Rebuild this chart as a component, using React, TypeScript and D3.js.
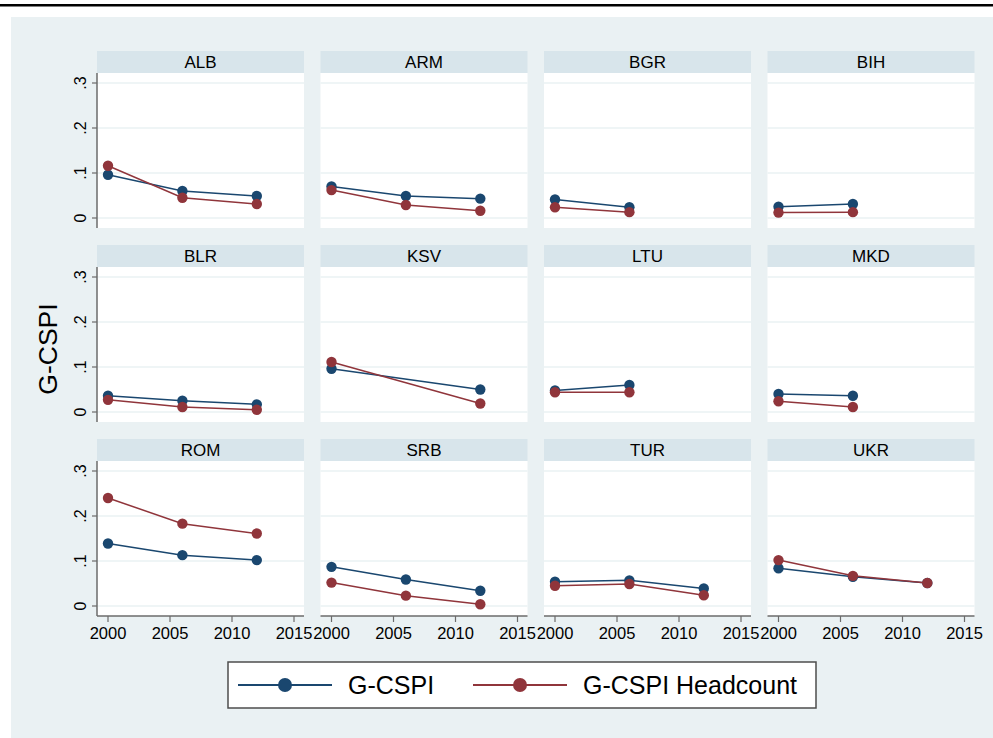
import { useEffect, useRef } from 'react';
import * as d3 from 'd3';

const countries = ['ALB', 'ARM', 'BGR', 'BIH', 'BLR', 'KSV', 'LTU', 'MKD', 'ROM', 'SRB', 'TUR', 'UKR'];
const years = [2000, 2006, 2012];

// G-CSPI per country, for 2000 / 2006 / 2012 (null = no survey)
const gcspi: (number | null)[][] = [
  [0.096, 0.060, 0.049],
  [0.070, 0.049, 0.043],
  [0.041, 0.024, null],
  [0.025, 0.031, null],
  [0.036, 0.025, 0.017],
  [0.096, null, 0.050],
  [0.048, 0.060, null],
  [0.040, 0.036, null],
  [0.139, 0.113, 0.102],
  [0.087, 0.059, 0.034],
  [0.054, 0.057, 0.039],
  [0.084, 0.065, 0.051],
];

// G-CSPI Headcount
const headcount: (number | null)[][] = [
  [0.116, 0.045, 0.031],
  [0.062, 0.029, 0.016],
  [0.024, 0.013, null],
  [0.012, 0.013, null],
  [0.027, 0.011, 0.005],
  [0.111, null, 0.019],
  [0.044, 0.044, null],
  [0.024, 0.011, null],
  [0.240, 0.183, 0.161],
  [0.052, 0.023, 0.004],
  [0.045, 0.049, 0.024],
  [0.102, 0.067, 0.051],
];

const xTicks = [2000, 2005, 2010, 2015];
const yTicks = [0, 0.1, 0.2, 0.3];
const yTickLabels = ['0', '.1', '.2', '.3'];
const seriesNames = ['G-CSPI', 'G-CSPI Headcount'];
const seriesColors = ['#1a476f', '#90353b'];

const WIDTH = 993;
const HEIGHT = 738;
const FONT = '"Liberation Sans", Arial, sans-serif';

const App = () => {
  const svgRef = useRef<SVGSVGElement | null>(null);

  useEffect(() => {
    if (!svgRef.current) return;
    const svg = d3.select(svgRef.current);
    svg.selectAll('*').remove();

    // page rule + graph region
    svg.append('rect').attr('width', WIDTH).attr('height', HEIGHT).attr('fill', '#ffffff');
    svg.append('rect').attr('x', 0).attr('y', 4).attr('width', WIDTH).attr('height', 2.5).attr('fill', '#000');
    svg.append('rect').attr('x', 11).attr('y', 17).attr('width', WIDTH - 11).attr('height', HEIGHT - 17).attr('fill', '#eaf1f3');

    const panelW = 207;
    const headerH = 22;
    const plotH = 155;
    const colStep = 223.5;
    const rowStep = 194;
    const left0 = 97;
    const top0 = 51;

    countries.forEach((name, i) => {
      const col = i % 4;
      const row = Math.floor(i / 4);
      const left = left0 + col * colStep;
      const top = top0 + row * rowStep;
      const plotTop = top + headerH;

      const x = d3.scaleLinear().domain([2000, 2015]).range([left + 11, left + 197]);
      const y = d3.scaleLinear().domain([0, 0.3]).range([plotTop + 145, plotTop + 10]);

      const g = svg.append('g');

      // header strip
      g.append('rect')
        .attr('x', left).attr('y', top)
        .attr('width', panelW).attr('height', headerH)
        .attr('fill', '#d8e5eb');
      g.append('text')
        .attr('x', left + panelW / 2).attr('y', top + headerH / 2)
        .attr('dy', '0.36em')
        .attr('text-anchor', 'middle')
        .style('font-family', FONT).style('font-size', '17px')
        .text(name);

      // plot area
      g.append('rect')
        .attr('x', left).attr('y', plotTop)
        .attr('width', panelW).attr('height', plotH)
        .attr('fill', '#ffffff');

      g.selectAll('line.grid')
        .data(yTicks)
        .enter()
        .append('line')
        .attr('class', 'grid')
        .attr('x1', left).attr('x2', left + panelW)
        .attr('y1', d => y(d)).attr('y2', d => y(d))
        .attr('stroke', '#eaf2f3').attr('stroke-width', 1.5);

      // y axis on first column
      if (col === 0) {
        g.append('line')
          .attr('x1', left).attr('x2', left)
          .attr('y1', plotTop).attr('y2', plotTop + plotH)
          .attr('stroke', '#6b6b6b').attr('stroke-width', 1.5);
        yTicks.forEach((t, k) => {
          g.append('line')
            .attr('x1', left - 5).attr('x2', left)
            .attr('y1', y(t)).attr('y2', y(t))
            .attr('stroke', '#6b6b6b').attr('stroke-width', 1.2);
          g.append('text')
            .attr('transform', `translate(${left - 11},${y(t)}) rotate(-90)`)
            .attr('text-anchor', 'middle')
            .style('font-family', FONT).style('font-size', '16px')
            .text(yTickLabels[k]);
        });
      }

      // x axis on bottom row
      if (row === 2) {
        g.append('line')
          .attr('x1', left).attr('x2', left + panelW)
          .attr('y1', plotTop + plotH).attr('y2', plotTop + plotH)
          .attr('stroke', '#6b6b6b').attr('stroke-width', 1.5);
        xTicks.forEach(t => {
          g.append('line')
            .attr('x1', x(t)).attr('x2', x(t))
            .attr('y1', plotTop + plotH).attr('y2', plotTop + plotH + 6)
            .attr('stroke', '#6b6b6b').attr('stroke-width', 1.2);
          g.append('text')
            .attr('x', x(t)).attr('y', plotTop + plotH + 23)
            .attr('text-anchor', 'middle')
            .style('font-family', FONT).style('font-size', '16.5px')
            .text(String(t));
        });
      }

      // series
      [gcspi[i], headcount[i]].forEach((vals, s) => {
        const pts = years
          .map((yr, k) => ({ yr, v: vals[k] }))
          .filter(p => p.v !== null) as { yr: number; v: number }[];

        const line = d3.line<{ yr: number; v: number }>()
          .x(p => x(p.yr))
          .y(p => y(p.v));

        g.append('path')
          .datum(pts)
          .attr('fill', 'none')
          .attr('stroke', seriesColors[s])
          .attr('stroke-width', 1.5)
          .attr('d', line);

        g.selectAll(`circle.s${s}`)
          .data(pts)
          .enter()
          .append('circle')
          .attr('class', `s${s}`)
          .attr('cx', p => x(p.yr))
          .attr('cy', p => y(p.v))
          .attr('r', 5.2)
          .attr('fill', seriesColors[s]);
      });
    });

    // y axis title
    svg.append('text')
      .attr('transform', `translate(57,349) rotate(-90)`)
      .attr('text-anchor', 'middle')
      .style('font-family', FONT).style('font-size', '26.5px')
      .text('G-CSPI');

    // legend
    const legend = svg.append('g');
    legend.append('rect')
      .attr('x', 228).attr('y', 662)
      .attr('width', 588).attr('height', 46)
      .attr('fill', '#ffffff')
      .attr('stroke', '#4d4d4d').attr('stroke-width', 1.5);

    const itemX = [238, 473];
    seriesNames.forEach((nm, s) => {
      const lx = itemX[s];
      legend.append('line')
        .attr('x1', lx).attr('x2', lx + 94)
        .attr('y1', 685).attr('y2', 685)
        .attr('stroke', seriesColors[s]).attr('stroke-width', 2);
      legend.append('circle')
        .attr('cx', lx + 47).attr('cy', 685)
        .attr('r', 7)
        .attr('fill', seriesColors[s]);
      legend.append('text')
        .attr('x', lx + 110).attr('y', 685)
        .attr('dy', '0.36em')
        .style('font-family', FONT).style('font-size', '25px')
        .text(nm);
    });
  }, []);

  return (
    <svg
      ref={svgRef}
      width={WIDTH}
      height={HEIGHT}
      style={{ position: 'absolute', left: 0, top: 0, display: 'block' }}
    />
  );
};

export default App;
